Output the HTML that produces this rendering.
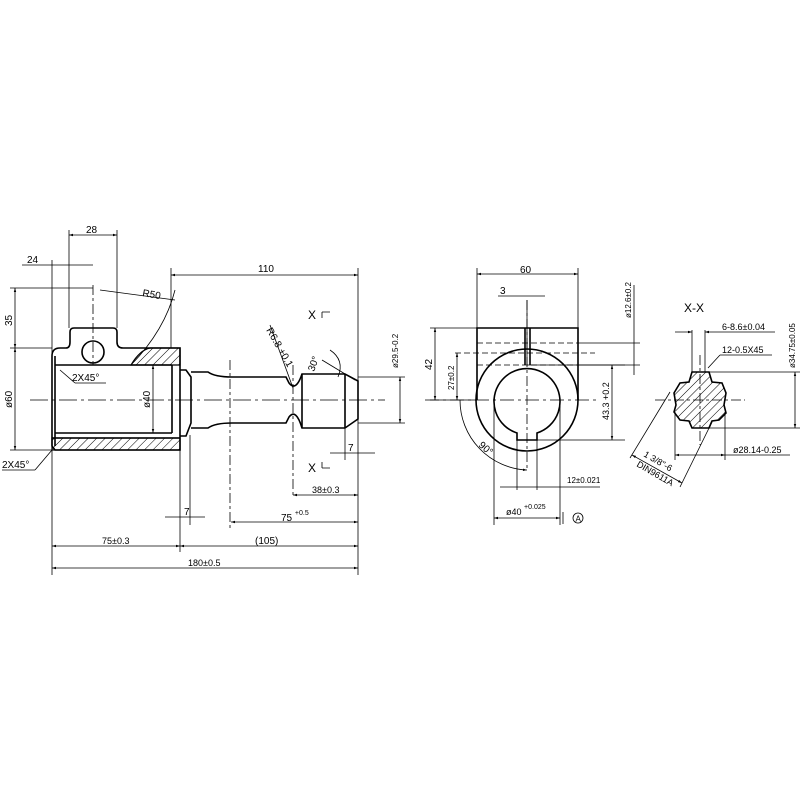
<!DOCTYPE html>
<html><head><style>body{margin:0;background:#fff}svg{display:block}text{font-family:"Liberation Sans",sans-serif;font-size:10px;fill:#000}</style></head><body>
<svg width="800" height="800" viewBox="0 0 800 800" xmlns="http://www.w3.org/2000/svg">
<defs>
<pattern id="h" width="6" height="6" patternUnits="userSpaceOnUse" patternTransform="rotate(45)"><line x1="0" y1="0" x2="0" y2="6" stroke="#000" stroke-width="1"/></pattern>
<marker id="a" viewBox="0 0 10 10" refX="10" refY="5" markerWidth="7" markerHeight="5" orient="auto-start-reverse"><path d="M0,2L10,5L0,8z" fill="#000"/></marker>
</defs>
<g fill="none" stroke="#000" stroke-width="0.8">
<line x1="30" y1="400" x2="385" y2="400" stroke-dasharray="18,4,3,4"/>
<line x1="93" y1="285" x2="93" y2="365" stroke-dasharray="10,3,3,3"/>
<line x1="230" y1="360" x2="230" y2="530" stroke-dasharray="10,3,3,3"/>
<line x1="293" y1="365" x2="293" y2="498" stroke-dasharray="10,3,3,3"/>
<g stroke-width="1.6">
<path d="M52,356 Q52,348 60,348 L66,348 Q70,348 70,342 L70,332 Q70,328 74,328 L113,328 Q117,328 117,332 L117,342 Q117,348 123,348 L180,348 L180,450 L55,450 L52,446 Z"/>
<circle cx="93" cy="352" r="11"/>
<line x1="55" y1="365" x2="172" y2="365"/>
<line x1="55" y1="433" x2="172" y2="433"/>
<line x1="172" y1="365" x2="172" y2="433"/>
<line x1="55" y1="356" x2="55" y2="446"/>
<line x1="52" y1="438" x2="180" y2="438"/>
<path d="M180,370 L186,370 L191,377 L191,423 L186,436 L180,436"/>
<path d="M191,372 L208,372 Q215,377 232,377 L286,377 L289,383 Q296,392 302,374 L345,374 L358,381 L358,419 L345,428 L302,428 Q296,408 289,417 L286,423 L232,423 Q215,423 208,428 L191,428"/>
<line x1="302" y1="374" x2="302" y2="428"/><line x1="345" y1="374" x2="345" y2="428"/>
</g>
<path d="M131,365 Q140,350 150,348 L180,348 L180,365 Z" fill="url(#h)" stroke-width="1.2"/>
<rect x="52" y="438" width="128" height="12" fill="url(#h)" stroke-width="1.2"/>
<path d="M131,365 Q165,330 175,290" stroke-width="0.8"/>
<line x1="52" y1="260" x2="52" y2="575"/><line x1="69" y1="230" x2="69" y2="328"/><line x1="117" y1="230" x2="117" y2="328"/>
<line x1="171" y1="268" x2="171" y2="348"/><line x1="358" y1="268" x2="358" y2="575"/><line x1="180" y1="450" x2="180" y2="552"/>
<line x1="190" y1="435" x2="190" y2="525"/><line x1="345" y1="418" x2="345" y2="460"/>
<line x1="10" y1="288" x2="93" y2="288"/><line x1="10" y1="348" x2="52" y2="348"/><line x1="10" y1="450" x2="52" y2="450"/>
<line x1="358" y1="377" x2="405" y2="377"/><line x1="358" y1="423" x2="405" y2="423"/>
<g marker-start="url(#a)" marker-end="url(#a)">
<line x1="69" y1="235" x2="117" y2="235"/>
<line x1="171" y1="275" x2="358" y2="275"/>
<line x1="15" y1="288" x2="15" y2="348"/>
<line x1="15" y1="348" x2="15" y2="450"/>
<line x1="153" y1="365" x2="153" y2="433"/>
<line x1="400" y1="377" x2="400" y2="423"/>
<line x1="293" y1="495" x2="358" y2="495"/>
<line x1="231" y1="522" x2="358" y2="522"/>
<line x1="52" y1="546" x2="180" y2="546"/>
<line x1="180" y1="546" x2="358" y2="546"/>
<line x1="52" y1="568" x2="358" y2="568"/>
</g>
<line x1="22" y1="265" x2="93" y2="265"/><line x1="165" y1="517" x2="205" y2="517"/>
<line x1="330" y1="453" x2="375" y2="453"/>
<line x1="100" y1="290" x2="175" y2="300"/>
<line x1="270" y1="325" x2="293" y2="388"/>
<line x1="322" y1="360" x2="355" y2="380"/>
<path d="M330,350 Q345,360 338,377"/>
<line x1="60" y1="370" x2="75" y2="383"/><line x1="75" y1="383" x2="106" y2="383"/>
<line x1="52" y1="450" x2="35" y2="470"/><line x1="35" y1="470" x2="2" y2="470"/>
<path d="M322,312 L322,318 M322,312 L330,312"/><path d="M322,468 L322,462 M322,468 L330,468"/>
</g>
<g>
<text x="86" y="233">28</text><text x="27" y="263">24</text><text x="258" y="272">110</text>
<text x="142" y="296" transform="rotate(10 142 296)">R50</text>
<text x="12" y="326" transform="rotate(-90 12 326)">35</text>
<text x="12" y="408" transform="rotate(-90 12 408)">ø60</text>
<text x="150" y="408" transform="rotate(-90 150 408)">ø40</text>
<text x="72" y="381">2X45°</text><text x="2" y="468">2X45°</text>
<text x="266" y="330" transform="rotate(60 266 330)">R6.8 +0.1</text>
<text x="314" y="372" transform="rotate(-70 314 372)">30°</text>
<text x="398" y="368" transform="rotate(-90 398 368)" style="font-size:8px">ø29.5-0.2</text>
<text x="308" y="319" style="font-size:12px">X</text><text x="308" y="472" style="font-size:12px">X</text>
<text x="348" y="451">7</text><text x="312" y="493" style="font-size:9px">38±0.3</text>
<text x="281" y="521">75 <tspan style="font-size:7px" dy="-6">+0.5</tspan></text>
<text x="184" y="515">7</text>
<text x="102" y="544" style="font-size:9px">75±0.3</text><text x="255" y="544">(105)</text>
<text x="188" y="566" style="font-size:9px">180±0.5</text>
</g>
<g fill="none" stroke="#000" stroke-width="0.8">
<line x1="425" y1="400" x2="600" y2="400" stroke-dasharray="14,4,3,4"/>
<line x1="527" y1="300" x2="527" y2="470" stroke-dasharray="10,3,3,3"/>
<g stroke-width="1.6">
<path d="M477,400 L477,328 L578,328 L578,400"/>
<circle cx="527" cy="400" r="51"/>
<path d="M517,433 A33,33 0 1 1 537,433 L537,440 L517,440 Z"/>
<line x1="525" y1="328" x2="525" y2="365"/><line x1="530" y1="328" x2="530" y2="365"/>
</g>
<line x1="527" y1="300" x2="527" y2="365"/>
<g stroke-dasharray="6,3"><line x1="477" y1="343" x2="578" y2="343"/><line x1="455" y1="353" x2="595" y2="353"/><line x1="477" y1="365" x2="578" y2="365"/></g>
<line x1="477" y1="268" x2="477" y2="328"/><line x1="578" y1="268" x2="578" y2="328"/>
<line x1="430" y1="328" x2="477" y2="328"/><line x1="430" y1="400" x2="477" y2="400"/>
<line x1="578" y1="343" x2="640" y2="343"/><line x1="578" y1="365" x2="640" y2="365"/>
<line x1="537" y1="440" x2="625" y2="440"/><line x1="527" y1="365" x2="625" y2="365"/>
<line x1="517" y1="440" x2="517" y2="490"/><line x1="537" y1="440" x2="537" y2="490"/>
<line x1="494" y1="400" x2="494" y2="525"/><line x1="560" y1="400" x2="560" y2="525"/>
<g marker-start="url(#a)" marker-end="url(#a)">
<line x1="477" y1="274" x2="578" y2="274"/>
<line x1="435" y1="328" x2="435" y2="400"/>
<line x1="457" y1="353" x2="457" y2="400"/>
<line x1="612" y1="365" x2="612" y2="440"/>
<line x1="494" y1="518" x2="560" y2="518"/>
</g>
<line x1="498" y1="296" x2="545" y2="296"/><line x1="634" y1="285" x2="634" y2="375"/>
<line x1="500" y1="487" x2="600" y2="487"/>
<path d="M460,400 A70,70 0 0 0 527,470" marker-end="url(#a)"/>
<line x1="563" y1="512" x2="563" y2="524"/>
<circle cx="578" cy="518" r="5"/>
</g>
<g>
<text x="520" y="273">60</text><text x="500" y="294">3</text>
<text x="432" y="370" transform="rotate(-90 432 370)">42</text>
<text x="454" y="390" transform="rotate(-90 454 390)" style="font-size:8px">27±0.2</text>
<text x="609" y="420" transform="rotate(-90 609 420)" style="font-size:9px">43.3 +0.2</text>
<text x="631" y="318" transform="rotate(-90 631 318)" style="font-size:8px">ø12.6±0.2</text>
<text x="478" y="446" transform="rotate(40 478 446)">90°</text>
<text x="567" y="483" style="font-size:8px">12±0.021</text>
<text x="506" y="515" style="font-size:9px">ø40 <tspan style="font-size:7px" dy="-6">+0.025</tspan></text>
<text x="575.5" y="521.5" style="font-size:8px">A</text>
</g>
<g fill="none" stroke="#000" stroke-width="0.8">
<line x1="655" y1="400" x2="745" y2="400" stroke-dasharray="10,3,3,3"/>
<line x1="700" y1="355" x2="700" y2="445" stroke-dasharray="10,3,3,3"/>
<path d="M692,372 L709,372 L712,382 L722,383 L726,393 L724,405 L726,413 L719,420 L712,421 L709,428 L692,428 L689,421 L680,420 L674,412 L676,405 L674,393 L680,383 L689,382 Z" fill="url(#h)" stroke-width="1.6"/>
<line x1="692" y1="330" x2="692" y2="372"/><line x1="705" y1="330" x2="705" y2="372"/>
<line x1="675" y1="332" x2="692" y2="332" marker-end="url(#a)"/><line x1="725" y1="332" x2="705" y2="332" marker-end="url(#a)"/>
<line x1="725" y1="332" x2="775" y2="332"/>
<line x1="708" y1="368" x2="720" y2="355"/><line x1="720" y1="355" x2="772" y2="355"/>
<line x1="709" y1="372" x2="800" y2="372"/><line x1="709" y1="428" x2="800" y2="428"/>
<line x1="795" y1="372" x2="795" y2="428" marker-start="url(#a)" marker-end="url(#a)"/>
<line x1="675" y1="412" x2="675" y2="460"/><line x1="725" y1="412" x2="725" y2="460"/>
<line x1="675" y1="455" x2="725" y2="455" marker-start="url(#a)" marker-end="url(#a)"/><line x1="725" y1="455" x2="790" y2="455"/>
<line x1="670" y1="392" x2="630" y2="458"/><line x1="712" y1="422" x2="680" y2="487"/>
<line x1="632" y1="455" x2="682" y2="483" marker-start="url(#a)" marker-end="url(#a)"/>
</g>
<g>
<text x="684" y="312" style="font-size:12px">X-X</text>
<text x="722" y="330" style="font-size:9px">6-8.6±0.04</text>
<text x="722" y="353" style="font-size:9px">12-0.5X45</text>
<text x="795" y="368" transform="rotate(-90 795 368)" style="font-size:8px">ø34.75±0.05</text>
<text x="733" y="453" style="font-size:9px">ø28.14-0.25</text>
<text x="643" y="456" transform="rotate(30 643 456)" style="font-size:9px">1 3/8"-6</text>
<text x="636" y="466" transform="rotate(30 636 466)" style="font-size:9px">DIN9611A</text>
</g>
</svg>
</body></html>
